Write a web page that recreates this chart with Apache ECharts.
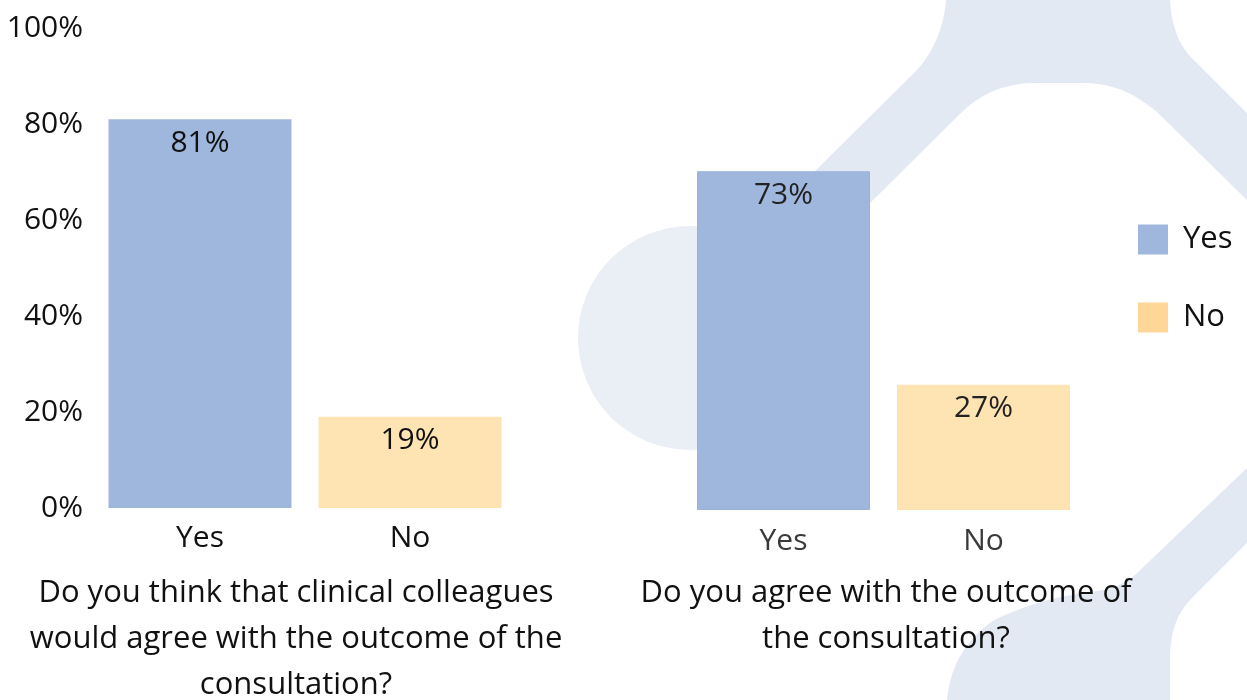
<!DOCTYPE html>
<html>
<head>
<meta charset="utf-8">
<script src="https://cdn.jsdelivr.net/npm/echarts@6/dist/echarts.min.js"></script>
<style>html,body{margin:0;padding:0;background:#fff}#c{width:1247px;height:700px}</style>
</head>
<body>
<div id="c"></div>
<script>
const categories = ['Yes', 'No'];
const leftYes = [81, '-'];
const leftNo = ['-', 19];
const rightYes = [73, '-'];
const rightNo = ['-', 27];
const leftTitle = 'Do you think that clinical colleagues\nwould agree with the outcome of the\nconsultation?';
const rightTitle = 'Do you agree with the outcome of\nthe consultation?';
const yTicks = [0, 20, 40, 60, 80, 100];

const FONT = 'Open Sans';
const FS = 30;
const BLUE = '#a0b7dd';
const ORANGE = '#fee3b3';
const BG = '#e3e9f3';

// decorative background: sample simple path commands (M/L/C) into polygon points
function pathToPoints(cmds) {
  const pts = [];
  let cur = null;
  cmds.forEach(c => {
    if (c[0] === 'M' || c[0] === 'L') { cur = [c[1], c[2]]; pts.push(cur); }
    else if (c[0] === 'C') {
      const [, x1, y1, x2, y2, x3, y3] = c;
      const [x0, y0] = cur;
      for (let i = 1; i <= 16; i++) {
        const t = i / 16, u = 1 - t;
        pts.push([u*u*u*x0 + 3*u*u*t*x1 + 3*u*t*t*x2 + t*t*t*x3,
                  u*u*u*y0 + 3*u*u*t*y1 + 3*u*t*t*y2 + t*t*t*y3]);
      }
      cur = [x3, y3];
    }
  });
  return pts;
}
const topShape = pathToPoints([
  ['M', 946, 0], ['L', 1170, 0], ['C', 1172, 30, 1180, 48, 1197, 63], ['L', 1247, 113], ['L', 1247, 200],
  ['L', 1157, 112], ['C', 1130, 90, 1110, 83, 1080, 83], ['L', 1037, 83], ['C', 1010, 83, 985, 90, 962, 112],
  ['L', 760, 312], ['L', 760, 226], ['L', 815, 171], ['L', 917, 70], ['C', 935, 50, 944, 25, 946, 0]
]);
const bottomShape = pathToPoints([
  ['M', 947, 700], ['C', 950, 660, 975, 625, 1010, 613], ['C', 1040, 600, 1070, 595, 1090, 592],
  ['C', 1110, 590, 1122, 585, 1135, 575], ['L', 1247, 468], ['L', 1247, 543], ['L', 1192, 598],
  ['C', 1178, 612, 1170, 630, 1170, 660], ['L', 1170, 700]
]);

const chart = echarts.init(document.getElementById('c'), null, {renderer: 'canvas'});

function barLabel(color) {
  return {show: true, position: 'insideTop', distance: 9, fontFamily: FONT, fontSize: FS, color: color,
    formatter: p => p.value + '%'};
}

const option = {
  backgroundColor: '#fff',
  animation: false,
  graphic: [
    {type: 'circle', z: -10, silent: true, shape: {cx: 690, cy: 338, r: 112}, style: {fill: '#eaeef5'}},
    {type: 'polygon', z: -10, silent: true, shape: {points: topShape}, style: {fill: BG}},
    {type: 'polygon', z: -10, silent: true, shape: {points: bottomShape}, style: {fill: BG}}
  ],
  title: [
    {text: leftTitle, left: 291, top: 565, textAlign: 'center',
      textStyle: {fontFamily: FONT, fontSize: 31, fontWeight: 'normal', color: '#111', lineHeight: 46}},
    {text: rightTitle, left: 881, top: 565, textAlign: 'center',
      textStyle: {fontFamily: FONT, fontSize: 31, fontWeight: 'normal', color: '#111', lineHeight: 46}}
  ],
  legend: {
    orient: 'vertical', left: 1133, top: 219, itemWidth: 30, itemHeight: 30, itemGap: 47,
    icon: 'rect',
    textStyle: {fontFamily: FONT, fontSize: 31, color: '#111', padding: [0, 0, 0, 10]},
    data: [{name: 'Yes', itemStyle: {color: BLUE}}, {name: 'No', itemStyle: {color: '#fdd698'}}]
  },
  grid: [
    {left: 95, width: 420, top: 28, height: 480},
    {left: 683.5, width: 400, top: 46, height: 464}
  ],
  xAxis: [
    {type: 'category', gridIndex: 0, data: categories, axisLine: {show: false}, axisTick: {show: false},
      axisLabel: {fontFamily: FONT, fontSize: FS, color: '#111', margin: 15}},
    {type: 'category', gridIndex: 1, data: categories, axisLine: {show: false}, axisTick: {show: false},
      axisLabel: {fontFamily: FONT, fontSize: FS, color: '#3a3a3a', margin: 16}}
  ],
  yAxis: [
    {type: 'value', gridIndex: 0, min: yTicks[0], max: yTicks[yTicks.length - 1], interval: 20,
      splitLine: {show: false}, axisLine: {show: false}, axisTick: {show: false},
      axisLabel: {fontFamily: FONT, fontSize: FS, color: '#111', margin: 12, formatter: '{value}%'}},
    {type: 'value', gridIndex: 1, min: 0, max: 100, show: false, splitLine: {show: false}}
  ],
  series: [
    {name: 'Yes', type: 'bar', xAxisIndex: 0, yAxisIndex: 0, data: leftYes, barWidth: 183, barGap: '-100%',
      itemStyle: {color: BLUE}, label: barLabel('#111')},
    {name: 'No', type: 'bar', xAxisIndex: 0, yAxisIndex: 0, data: leftNo, barWidth: 183, barGap: '-100%',
      itemStyle: {color: ORANGE}, label: barLabel('#111')},
    {name: 'Yes', type: 'bar', xAxisIndex: 1, yAxisIndex: 1, data: rightYes, barWidth: 173, barGap: '-100%',
      itemStyle: {color: BLUE, borderColor: '#9ab2da', borderWidth: 1}, label: barLabel('#222')},
    {name: 'No', type: 'bar', xAxisIndex: 1, yAxisIndex: 1, data: rightNo, barWidth: 173, barGap: '-100%',
      itemStyle: {color: ORANGE, borderColor: '#fbe2b4', borderWidth: 1}, label: barLabel('#222')}
  ]
};
chart.setOption(option);
</script>
</body>
</html>
